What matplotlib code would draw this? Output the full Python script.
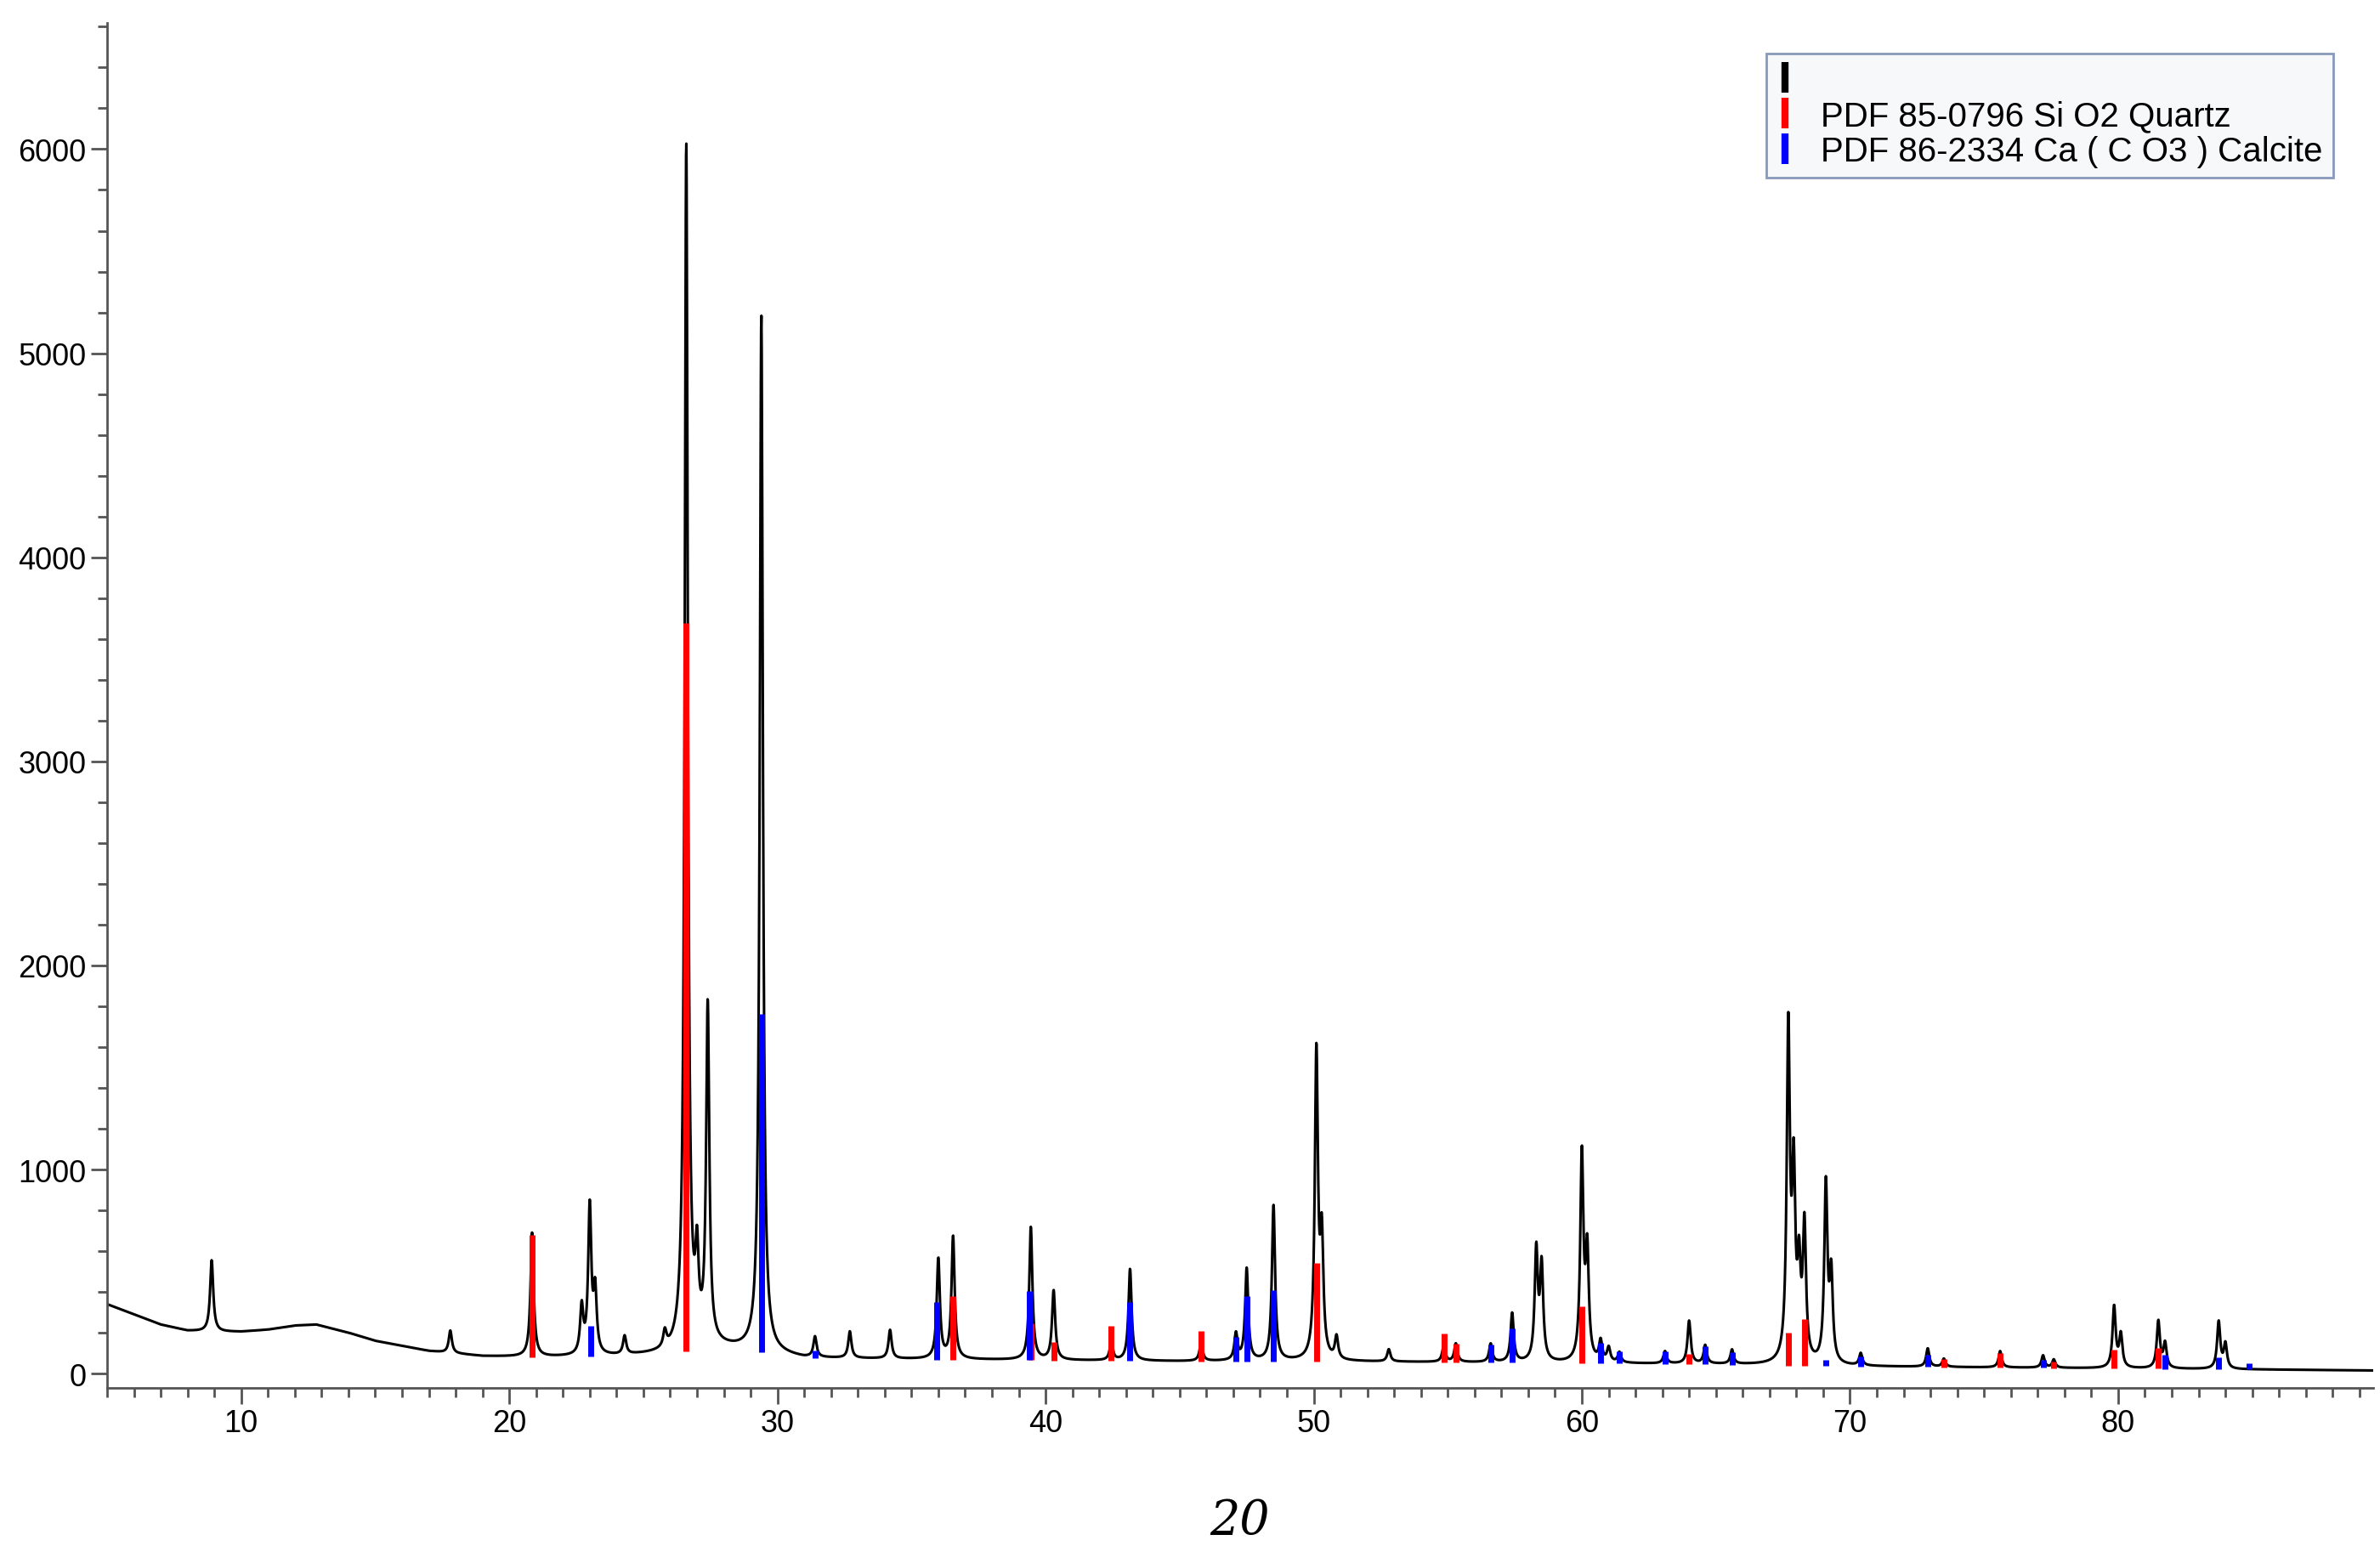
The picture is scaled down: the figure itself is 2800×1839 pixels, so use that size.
import numpy as np
import matplotlib.pyplot as plt
from matplotlib.lines import Line2D
from matplotlib.ticker import MultipleLocator

plt.rcParams['font.family'] = ['Liberation Sans', 'DejaVu Sans']

# background knots (2theta, counts)
bg_x = [5, 6, 7, 8, 9, 10, 11, 12, 12.8, 14, 15, 17, 19, 21, 24, 26, 27.5, 29, 31, 35, 40, 45, 50, 55, 60, 65, 70, 75, 80, 85, 89.5]
bg_y = [340, 290, 240, 210, 205, 205, 215, 235, 240, 200, 160, 110, 85, 80, 85, 95, 130, 110, 75, 70, 65, 60, 60, 55, 50, 45, 35, 30, 25, 20, 15]

# measured peaks: position, height above background
pk_pos = [8.9, 17.8, 20.85, 22.7, 23.0, 23.2, 24.3, 25.8, 26.6, 27.0, 27.4, 29.4, 31.4, 32.7, 34.2,
          36.0, 36.55, 39.45, 40.3, 42.45, 43.15, 45.8, 47.1, 47.5, 48.5, 50.1, 50.3, 50.85, 52.8,
          54.85, 55.3, 56.6, 57.4, 58.3, 58.5, 60.0, 60.2, 60.7, 61.0, 61.4, 63.1, 64.0, 64.6, 65.6,
          67.7, 67.9, 68.1, 68.3, 69.1, 69.3, 70.4, 72.9, 73.5, 75.6, 77.2, 77.6, 79.85, 80.1,
          81.5, 81.75, 83.75, 84.0]
pk_h = [350, 110, 610, 230, 720, 300, 90, 80, 5900, 380, 1650, 5080, 100, 130, 140,
        490, 600, 650, 340, 90, 450, 90, 130, 450, 760, 1500, 560, 110, 60,
        80, 90, 90, 240, 540, 460, 1010, 520, 100, 70, 50, 60, 210, 90, 70,
        1620, 870, 420, 650, 870, 420, 60, 90, 40, 80, 60, 40, 300, 160,
        230, 120, 230, 120]

# reference sticks
q_pos = [20.85, 26.6, 36.55, 39.45, 40.3, 42.45, 45.8, 50.1, 54.85, 55.3, 60.0, 64.0, 67.7, 68.3, 73.5, 75.6, 77.6, 79.85, 81.5]
q_h = [600, 3570, 310, 180, 90, 170, 150, 480, 140, 90, 280, 50, 160, 230, 40, 70, 30, 90, 100]
c_pos = [23.05, 29.4, 31.4, 35.95, 39.4, 43.15, 47.1, 47.5, 48.5, 56.6, 57.4, 60.7, 61.4, 63.1, 64.6, 65.6, 69.1, 70.4, 72.9, 77.2, 81.75, 83.75, 84.9]
c_h = [150, 1660, 40, 280, 340, 290, 120, 320, 350, 90, 170, 100, 60, 60, 90, 60, 30, 50, 60, 40, 70, 60, 30]

x = np.linspace(5, 89.5, 8000)
y = np.interp(x, bg_x, bg_y)
w = 0.07
for p, h in zip(pk_pos, pk_h):
    y = y + h / (1 + ((x - p) / w) ** 2)

fig = plt.figure(figsize=(28, 18.4), dpi=100)
ax = fig.add_axes([0.045, 0.112, 0.952, 0.873])
ax.plot(x, y, color='black', lw=2.2)
for p, h in zip(q_pos, q_h):
    b = np.interp(p, bg_x, bg_y)
    ax.plot([p, p], [b, b + h], color='red', lw=5, solid_capstyle='butt')
for p, h in zip(c_pos, c_h):
    b = np.interp(p, bg_x, bg_y)
    ax.plot([p, p], [b, b + h], color='blue', lw=5, solid_capstyle='butt')

ax.set_xlim(5, 89.5)
ax.set_ylim(-70, 6620)
ax.spines['top'].set_visible(False)
ax.spines['right'].set_visible(False)
for s in ('left', 'bottom'):
    ax.spines[s].set_color('#555555')
    ax.spines[s].set_linewidth(2)
ax.xaxis.set_major_locator(MultipleLocator(10))
ax.xaxis.set_minor_locator(MultipleLocator(1))
ax.yaxis.set_major_locator(MultipleLocator(1000))
ax.yaxis.set_minor_locator(MultipleLocator(200))
ax.tick_params(axis='both', which='major', labelsize=26, length=14, width=2, color='#555555')
ax.tick_params(axis='both', which='minor', length=8, width=2, color='#555555')
ax.set_xlabel('20', fontsize=40, family='DejaVu Serif', style='italic', labelpad=50)

handles = [Line2D([], [], color='black', marker='|', ls='none', ms=26, mew=6),
           Line2D([], [], color='red', marker='|', ls='none', ms=26, mew=6),
           Line2D([], [], color='blue', marker='|', ls='none', ms=26, mew=6)]
labels = [' ', 'PDF 85-0796 Si O2 Quartz', 'PDF 86-2334 Ca ( C O3 ) Calcite']
leg = ax.legend(handles, labels, loc='upper right', bbox_to_anchor=(0.99, 0.99), fontsize=29,
                fancybox=False, edgecolor='#8899bb', framealpha=1, facecolor='#f7f8fa',
                handlelength=0.5, handletextpad=0.8, labelspacing=0.1, borderpad=0.3)
leg.get_frame().set_linewidth(2)

fig.savefig('out.png', dpi=100)
